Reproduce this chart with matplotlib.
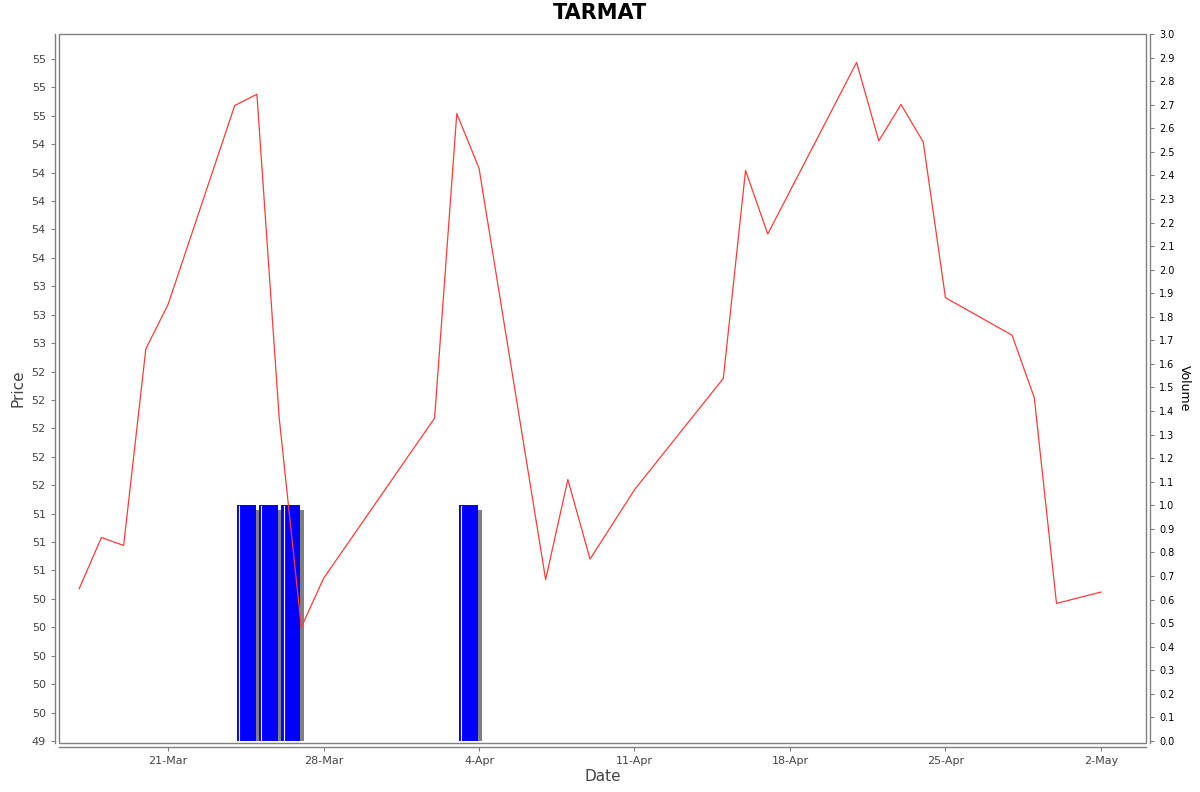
import numpy as np
import pandas as pd
import matplotlib
matplotlib.use("Agg")
import matplotlib.pyplot as plt
import matplotlib.dates as mdates
from matplotlib.patches import Rectangle
from matplotlib.ticker import FixedLocator, FuncFormatter, MultipleLocator

# price series
dates = ["2025-03-17", "2025-03-18", "2025-03-19", "2025-03-20", "2025-03-21",
         "2025-03-24", "2025-03-25", "2025-03-26", "2025-03-27", "2025-03-28",
         "2025-04-02", "2025-04-03", "2025-04-04", "2025-04-07", "2025-04-08",
         "2025-04-09", "2025-04-11", "2025-04-15", "2025-04-16", "2025-04-17",
         "2025-04-21", "2025-04-22", "2025-04-23", "2025-04-24", "2025-04-25",
         "2025-04-28", "2025-04-29", "2025-04-30", "2025-05-02"]
prices = [50.59, 51.04, 50.97, 52.70, 53.09,
          54.84, 54.94, 52.10, 50.25, 50.68,
          52.09, 54.77, 54.29, 50.67, 51.55,
          50.85, 51.46, 52.44, 54.27, 53.71,
          55.22, 54.53, 54.85, 54.52, 53.15,
          52.82, 52.27, 50.46, 50.56]

# volume bars
vol_dates = ["2025-03-24", "2025-03-25", "2025-03-26", "2025-04-03"]
volumes = [1.0, 1.0, 1.0, 1.0]

tick_dates = ["2025-03-21", "2025-03-28", "2025-04-04", "2025-04-11",
              "2025-04-18", "2025-04-25", "2025-05-02"]

x = mdates.date2num(pd.to_datetime(dates))
xv = mdates.date2num(pd.to_datetime(vol_dates))
xt = mdates.date2num(pd.to_datetime(tick_dates))

fig = plt.figure(figsize=(12, 7.92), dpi=100)
ax = fig.add_axes([59 / 1200, 1 - 743 / 792, (1146 - 59) / 1200, (743 - 34) / 792])
ax2 = ax.twinx()

grey = "#808080"
txt = "#444444"

# volume on the right axis, with a drop shadow
bw = 0.85
ax2.bar(xv + 0.28, np.array(volumes) - 0.021, width=bw, align="edge",
        color=grey, zorder=1)
ax2.bar(xv + 0.1, volumes, width=bw, align="edge", color="#0000ff", zorder=2)
for xx, v in zip(xv, volumes):
    ax2.plot([xx + 0.2, xx + 0.2], [0, v - 0.004], color="white", lw=0.8, zorder=3)
ax2.set_ylim(-0.0085, 3.0)
ax2.yaxis.set_major_locator(MultipleLocator(0.1))
ax2.yaxis.set_major_formatter(FuncFormatter(lambda v, p: "%.1f" % v))

# price line above the bars
ax.set_zorder(ax2.get_zorder() + 1)
ax.patch.set_visible(False)
ax.plot(x, prices, color="#ff3b3b", lw=0.9)

ax.set_ylim(49.232, 55.47)
ax.yaxis.set_major_locator(FixedLocator(np.arange(49.25, 55.3, 0.25)))
ax.yaxis.set_major_formatter(FuncFormatter(lambda v, p: "%.0f" % v))

ax.set_xlim(xt[0] - 4.91, xt[-1] + 2.03)
ax.xaxis.set_major_locator(FixedLocator(xt))
ax.xaxis.set_major_formatter(mdates.DateFormatter("%-d-%b"))

# spines: axis lines set slightly outside a grey plot border
for a in (ax, ax2):
    for s in a.spines.values():
        s.set_visible(False)
ax.spines["left"].set_visible(True)
ax.spines["bottom"].set_visible(True)
ax.spines["left"].set_position(("outward", 3))
ax.spines["bottom"].set_position(("outward", 3))
ax2.spines["right"].set_visible(True)
ax2.spines["right"].set_position(("outward", 3))
for s in (ax.spines["left"], ax.spines["bottom"], ax2.spines["right"]):
    s.set_color(grey)
    s.set_linewidth(1)
ax.add_patch(Rectangle((0, 0), 1, 1, transform=ax.transAxes, fill=False,
                       edgecolor=grey, lw=1, clip_on=False, zorder=5))

ax.tick_params(axis="both", colors=grey, labelcolor=txt, labelsize=8, length=3, width=0.8)
ax2.tick_params(axis="y", colors=grey, labelcolor="black", labelsize=7, length=3, width=0.8)

ax.set_xlabel("Date", fontsize=11, color=txt, labelpad=2)
ax.set_ylabel("Price", fontsize=11, color=txt, labelpad=4)
ax2.set_ylabel("Volume", fontsize=9, color="black", rotation=270, labelpad=12)
fig.suptitle("TARMAT", fontsize=15, fontweight="bold", y=1 - 13 / 792, va="center")

fig.savefig("out.png", dpi=100)
